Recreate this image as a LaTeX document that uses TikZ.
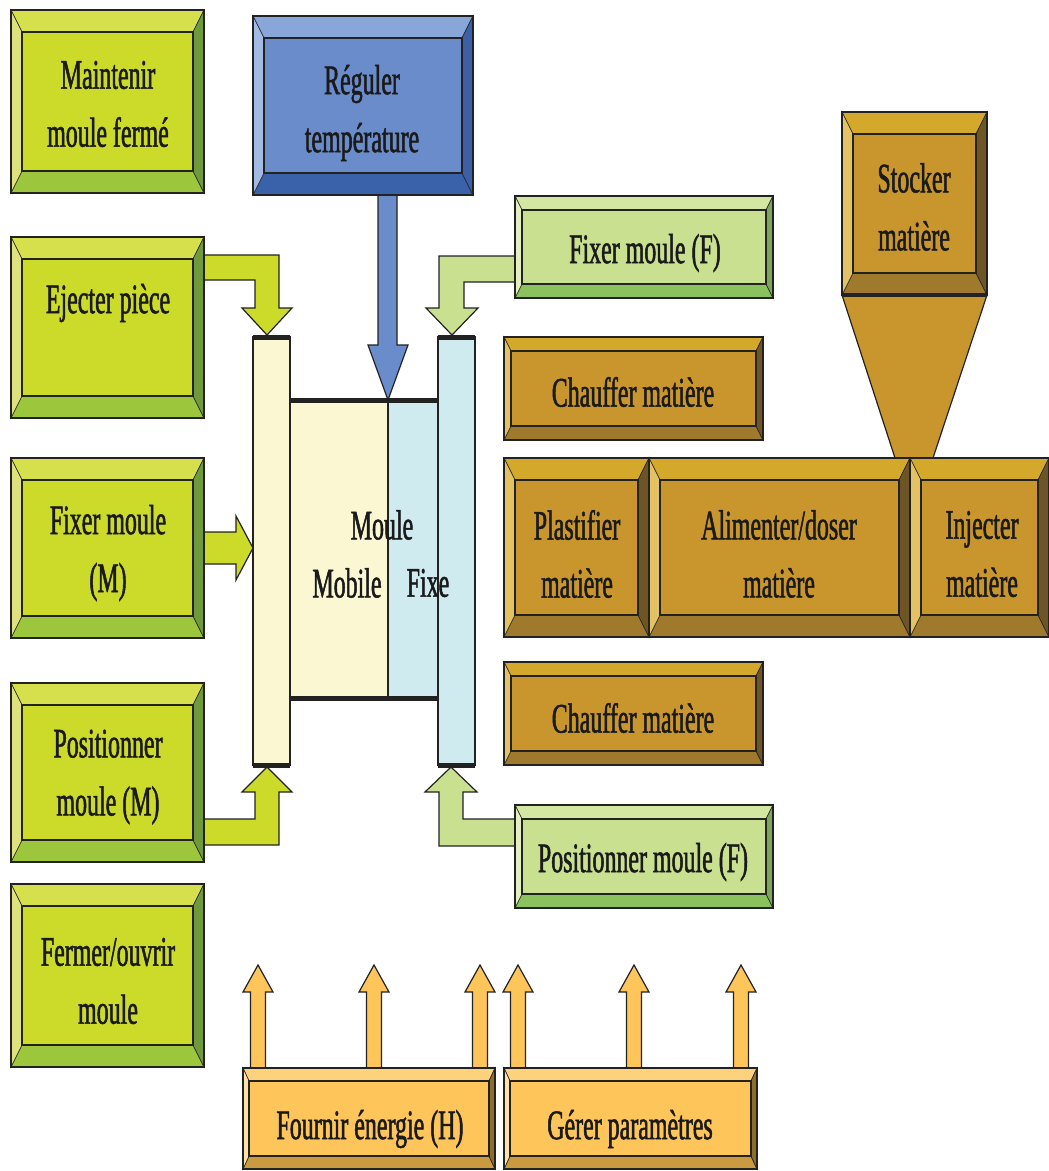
\documentclass[tikz,border=0pt]{standalone}
\usepackage{fontspec}
\setmainfont{Liberation Serif}[FakeStretch=0.57,FakeBold=1.2]
\definecolor{lc}{HTML}{222222}
\definecolor{txt}{HTML}{1A1A1A}
\definecolor{gF}{HTML}{CCDB2A}
\definecolor{gT}{HTML}{D6DF4C}
\definecolor{gL}{HTML}{DDE27C}
\definecolor{gR}{HTML}{6E9A3C}
\definecolor{gB}{HTML}{9CC63C}
\definecolor{bF}{HTML}{6A8CCB}
\definecolor{bT}{HTML}{88A6DA}
\definecolor{bL}{HTML}{A3BBE3}
\definecolor{bR}{HTML}{3C5FA6}
\definecolor{bB}{HTML}{3A62AA}
\definecolor{lF}{HTML}{C8E08F}
\definecolor{lT}{HTML}{D3E7A2}
\definecolor{lL}{HTML}{E3EFC0}
\definecolor{lR}{HTML}{7EA65A}
\definecolor{lB}{HTML}{8CC25E}
\definecolor{oF}{HTML}{C8962C}
\definecolor{oT}{HTML}{D4A82A}
\definecolor{oL}{HTML}{E2C262}
\definecolor{oR}{HTML}{6E5526}
\definecolor{oB}{HTML}{A07A2C}
\definecolor{yF}{HTML}{FDC55A}
\definecolor{yT}{HTML}{FDD27C}
\definecolor{yL}{HTML}{FFE2A6}
\definecolor{yR}{HTML}{8E6C2A}
\definecolor{yB}{HTML}{C99A40}
\definecolor{cream}{HTML}{FBF7D2}
\definecolor{ice}{HTML}{D0EBF0}
% bevel box: x1 y1 x2 y2 topbevel sidebevel palette
\newcommand{\bbox}[7]{%
  \path[fill=#7F] (#1,#2) rectangle (#3,#4);
  \path[draw=lc, line width=0.6pt, fill=#7T] (#1,#2) -- (#3,#2) -- ({#3-#6},{#2+#5}) -- ({#1+#6},{#2+#5}) -- cycle;
  \path[draw=lc, line width=0.6pt, fill=#7B] (#1,#4) -- (#3,#4) -- ({#3-#6},{#4-#5}) -- ({#1+#6},{#4-#5}) -- cycle;
  \path[draw=lc, line width=0.6pt, fill=#7L] (#1,#2) -- ({#1+#6},{#2+#5}) -- ({#1+#6},{#4-#5}) -- (#1,#4) -- cycle;
  \path[draw=lc, line width=0.6pt, fill=#7R] (#3,#2) -- ({#3-#6},{#2+#5}) -- ({#3-#6},{#4-#5}) -- (#3,#4) -- cycle;
  \draw[lc, line width=1.6pt] ({#1+#6},{#2+#5}) rectangle ({#3-#6},{#4-#5});
  \draw[lc, line width=1.4pt] (#1,#2) rectangle (#3,#4);
}
\tikzset{
  lbl/.style={align=center, inner sep=0pt, text=txt, font=\fontsize{42}{58}\selectfont},
  barrow/.style={draw=lc, line width=1.2pt, line join=miter},
  thick plate/.style={lc, line width=5pt},
}
\begin{document}
\begin{tikzpicture}[x=1pt,y=-1pt]
\useasboundingbox (0,0) rectangle (1049,1171);

% ---------- block arrows (drawn first, boxes cover their roots)
\path[barrow, fill=bF] (378,185) -- (378,345) -- (368,345) -- (388,400) -- (408,345) -- (397,345) -- (397,185) -- cycle;
\path[barrow, fill=gF] (200,255) -- (279,255) -- (279,308) -- (292,308) -- (267,335) -- (242,308) -- (255,308) -- (255,280) -- (200,280) -- cycle;
\path[barrow, fill=gF] (200,532) -- (236,532) -- (236,516) -- (253,548) -- (236,580) -- (236,564) -- (200,564) -- cycle;
\path[barrow, fill=gF] (200,845) -- (279,845) -- (279,792) -- (292,792) -- (267,767) -- (242,792) -- (255,792) -- (255,819) -- (200,819) -- cycle;
\path[barrow, fill=lF] (520,256) -- (439,256) -- (439,308) -- (426,308) -- (452,335) -- (478,308) -- (464,308) -- (464,282) -- (520,282) -- cycle;
\path[barrow, fill=lF] (520,846) -- (439,846) -- (439,792) -- (425,792) -- (451,767) -- (477,792) -- (463,792) -- (463,819) -- (520,819) -- cycle;
\foreach \c in {258,374,480,518,634,741}{
  \path[barrow, fill=yF] ({\c-7.5},1074) -- ({\c-7.5},992) -- ({\c-15},992) -- (\c,965) -- ({\c+15},992) -- ({\c+7.5},992) -- ({\c+7.5},1074) -- cycle;
}

% ---------- mould
\path[fill=cream] (290,400) rectangle (388,698);
\path[fill=ice] (388,400) rectangle (438,698);
\draw[lc, line width=2pt] (388,400) -- (388,698);
\draw[thick plate] (290,400) -- (438,400);
\draw[thick plate] (290,698) -- (438,698);
\draw[lc, line width=2pt, fill=cream] (253,337) rectangle (290,765);
\draw[lc, line width=2pt, fill=ice] (438,337) rectangle (475,765);
\draw[thick plate] (253,337) -- (290,337);
\draw[thick plate] (253,765) -- (290,765);
\draw[thick plate] (438,337) -- (475,337);
\draw[thick plate] (438,765) -- (475,765);

% ---------- boxes
\bbox{11}{10}{204}{193}{22}{11}{g}
\bbox{11}{237}{204}{418}{22}{11}{g}
\bbox{11}{458}{204}{638}{22}{11}{g}
\bbox{11}{683}{204}{862}{22}{11}{g}
\bbox{11}{884}{204}{1067}{22}{11}{g}
\bbox{253}{16}{473}{195}{22}{11}{b}
\bbox{515}{196}{773}{298}{14}{7}{l}
\bbox{504}{337}{763}{440}{14}{7}{o}
\bbox{504}{662}{763}{765}{14}{7}{o}
\bbox{515}{805}{773}{908}{14}{7}{l}
\path[draw=lc, line width=1.2pt, fill=oF] (842,295) -- (987,295) -- (933,458) -- (895,458) -- cycle;
\bbox{842}{112}{987}{295}{22}{11}{o}
\draw[lc, line width=4pt] (842,295) -- (987,295);
\bbox{504}{458}{649}{637}{22}{11}{o}
\bbox{649}{458}{910}{637}{22}{11}{o}
\bbox{910}{458}{1049}{637}{22}{11}{o}
\bbox{243}{1068}{495}{1169}{13}{6}{y}
\bbox{504}{1068}{757}{1169}{13}{6}{y}

% ---------- texts
\node[lbl] (maintenir) at (108,104) {Maintenir\\moule fermé};
\node[lbl] (ejecter) at (108,303) {Ejecter pièce};
\node[lbl] (fixerM) at (108,553) {Fixer moule\\(M)};
\node[lbl] (posM) at (108,777) {Positionner\\moule (M)};
\node[lbl] (fermer) at (108,981) {Fermer/ouvrir\\moule};
\node[lbl] (reguler) at (362,113) {Réguler\\température};
\node[lbl] (fixerF) at (645,253) {Fixer moule (F)};
\node[lbl] (chauffer1) at (633,392) {Chauffer matière};
\node[lbl] (chauffer2) at (633,718) {Chauffer matière};
\node[lbl] (posF) at (643,862) {Positionner moule (F)};
\node[lbl] (stocker) at (914,207) {Stocker\\matière};
\node[lbl] (plastifier) at (577,554) {Plastifier\\matière};
\node[lbl] (alimenter) at (779,554) {Alimenter/doser\\matière};
\node[lbl] (injecter) at (982,554) {Injecter\\matière};
\node[lbl] (fournir) at (370,1129) {Fournir énergie (H)};
\node[lbl] (gerer) at (630,1129) {Gérer paramètres};
\node[lbl] (moule) at (382,525) {Moule};
\node[lbl] (mobile) at (347,583) {Mobile};
\node[lbl] (fixe) at (428,583) {Fixe};
\end{tikzpicture}
\end{document}
